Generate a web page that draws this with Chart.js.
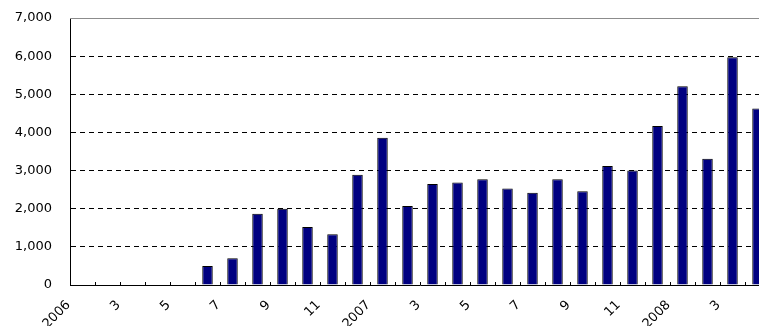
<!DOCTYPE html>
<html>
<head>
<meta charset="utf-8">
<script src="https://cdn.jsdelivr.net/npm/chart.js@4/dist/chart.umd.min.js"></script>
<style>
  html, body { margin: 0; padding: 0; background: #fff; overflow: hidden; }
  canvas { display: block; }
</style>
</head>
<body>
<canvas id="barchart" width="772" height="326"></canvas>
<script>
// monthly figures, Jan 2006 - Apr 2008
var months = [
    "2006", "2", "3", "4", "5", "6", "7", "8", "9", "10", "11", "12",
    "2007", "2", "3", "4", "5", "6", "7", "8", "9", "10", "11", "12",
    "2008", "2", "3", "4"
];
var counts = [
    0, 0, 0, 0, 0, 500, 700, 1870, 2000, 1520, 1330, 2890,
    3860, 2070, 2650, 2690, 2770, 2530, 2420, 2770, 2460, 3120, 3000, 4170,
    5210, 3310, 5970, 4630
];
var yTicks = [0, 1000, 2000, 3000, 4000, 5000, 6000, 7000];

const font = { family: "'DejaVu Sans', sans-serif", size: 13 };

// grey top frame, inward tick marks and slanted month labels under the x axis
const frameAndLabels = {
    id: 'frameAndLabels',
    afterDraw: function (chart) {
        const a = chart.chartArea;
        const xs = chart.scales.x;
        const ctx = chart.ctx;
        const step = (xs.right - xs.left) / months.length;

        ctx.save();
        ctx.lineWidth = 1;
        ctx.strokeStyle = "#8c8c8c";
        ctx.beginPath();
        ctx.moveTo(a.left, Math.round(a.top - 0.5) + 0.5);
        ctx.lineTo(a.right, Math.round(a.top - 0.5) + 0.5);
        ctx.stroke();

        ctx.strokeStyle = "#000";
        ctx.beginPath();
        for (let i = 1; i < months.length; i++) {
            const x = Math.round(xs.left + step * i - 0.5) + 0.5;
            ctx.moveTo(x, a.bottom);
            ctx.lineTo(x, a.bottom - 3);
        }
        ctx.stroke();

        ctx.fillStyle = "#000";
        ctx.font = "13px 'DejaVu Sans', sans-serif";
        ctx.textAlign = 'right';
        ctx.textBaseline = 'middle';
        for (let i = 0; i < months.length; i += 2) {
            ctx.save();
            ctx.translate(xs.getPixelForTick(i) - 14, a.bottom + 18);
            ctx.rotate(-Math.PI / 4);
            ctx.fillText(months[i], 0, 0);
            ctx.restore();
        }
        ctx.restore();
    }
};

new Chart("barchart", {
    type: 'bar',
    data: {
        labels: months,
        datasets: [{
            data: counts,
            backgroundColor: "#000080",
            borderColor: "#000000",
            borderWidth: 1,
            barPercentage: 0.42,
            categoryPercentage: 1
        }]
    },
    plugins: [frameAndLabels],
    options: {
        responsive: false,
        animation: false,
        layout: { padding: { left: 0, top: 18, right: 2, bottom: 41 } },
        plugins: { legend: { display: false }, tooltip: { enabled: false } },
        scales: {
            x: {
                grid: { display: false, drawTicks: false },
                border: { color: "#000" },
                ticks: { display: false }
            },
            y: {
                min: yTicks[0],
                max: yTicks[yTicks.length - 1],
                grid: {
                    drawTicks: false,
                    color: function (ctx) {
                        const v = ctx.tick ? ctx.tick.value : 0;
                        return (v === yTicks[0] || v === yTicks[yTicks.length - 1]) ? 'rgba(0,0,0,0)' : '#000';
                    }
                },
                border: { color: "#000", dash: [5, 4] },
                ticks: {
                    stepSize: yTicks[1] - yTicks[0],
                    padding: 18,
                    color: "#000",
                    font: font,
                    callback: function (v) { return Number(v).toLocaleString('en-US'); }
                },
                afterFit: function (scale) {
                    scale.width = 70;
                    scale.paddingTop = 0;
                    scale.paddingBottom = 0;
                }
            }
        }
    }
});
</script>
</body>
</html>
